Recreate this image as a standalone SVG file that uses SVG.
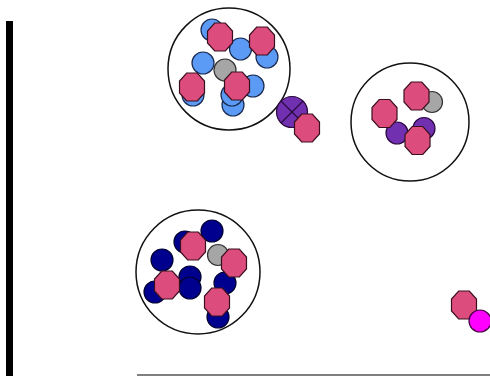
<svg xmlns="http://www.w3.org/2000/svg" xmlns:xlink="http://www.w3.org/1999/xlink" width="490" height="376" viewBox="0 0 490 376">
<style>
.cell{fill:#fff;stroke:#111;stroke-width:1.5}
.oct{fill:#dc4c7c;stroke:#3a1020;stroke-width:1.2}
.blue{fill:#5b9bf5;stroke:#1a2a50;stroke-width:1.2}
.navy{fill:#00008f;stroke:#000033;stroke-width:1.2}
.gray{fill:#a6a6a6;stroke:#333;stroke-width:1.2}
.purple{fill:#7030b0;stroke:#2a0a40;stroke-width:1.2}
.magenta{fill:#ff00ff;stroke:#400040;stroke-width:1.2}
</style>
<defs>
<polygon id="octa" class="oct" points="-5.3,-14 5.3,-14 12.5,-6 12.5,6 5.3,14 -5.3,14 -12.5,6 -12.5,-6"/>
</defs>
<rect width="490" height="376" fill="#fff"/>
<g id="axes">
<rect x="6" y="21" width="7" height="355" fill="#000"/>
<line x1="137" y1="375" x2="490" y2="375" stroke="#555" stroke-width="1.5"/>
</g>
<g id="cluster1">
<circle class="cell" cx="229" cy="69" r="61"/>
<circle class="blue" cx="212" cy="30" r="11"/>
<circle class="blue" cx="240.5" cy="49" r="11"/>
<circle class="blue" cx="267" cy="57" r="11"/>
<circle class="blue" cx="203" cy="63" r="11"/>
<circle class="blue" cx="193" cy="95" r="11"/>
<circle class="blue" cx="253" cy="86" r="11"/>
<circle class="blue" cx="233" cy="105" r="11"/>
<circle class="blue" cx="232" cy="95" r="11"/>
<circle class="gray" cx="225" cy="70" r="11"/>
<use xlink:href="#octa" x="220" y="37"/>
<use xlink:href="#octa" x="262" y="41"/>
<use xlink:href="#octa" x="192" y="87"/>
<use xlink:href="#octa" x="237" y="86"/>
</g>
<g id="free1">
<circle class="purple" cx="292" cy="112" r="15.5"/>
<line x1="281" y1="101" x2="303" y2="123" stroke="#2a0a40" stroke-width="1.2"/>
<line x1="281" y1="123" x2="303" y2="101" stroke="#2a0a40" stroke-width="1.2"/>
<use xlink:href="#octa" x="307" y="128"/>
</g>
<g id="cluster2">
<circle class="cell" cx="410" cy="122" r="59"/>
<circle class="gray" cx="432" cy="102" r="10.5"/>
<circle class="purple" cx="397" cy="133" r="11"/>
<circle class="purple" cx="424" cy="128.5" r="11"/>
<use xlink:href="#octa" x="416.5" y="96"/>
<use xlink:href="#octa" x="384.5" y="113.5"/>
<use xlink:href="#octa" x="417.5" y="140.5"/>
</g>
<g id="cluster3">
<circle class="cell" cx="198" cy="272" r="62"/>
<circle class="navy" cx="212" cy="231" r="11"/>
<circle class="navy" cx="185" cy="242" r="11"/>
<circle class="navy" cx="162" cy="260" r="11"/>
<circle class="navy" cx="190" cy="277" r="11"/>
<circle class="navy" cx="190" cy="288" r="11"/>
<circle class="navy" cx="155" cy="292" r="11"/>
<circle class="navy" cx="225" cy="283" r="11"/>
<circle class="navy" cx="218" cy="317" r="11"/>
<circle class="gray" cx="218" cy="255" r="10.5"/>
<use xlink:href="#octa" x="193" y="246"/>
<use xlink:href="#octa" x="234" y="263"/>
<use xlink:href="#octa" x="167" y="285"/>
<use xlink:href="#octa" x="217" y="302"/>
</g>
<g id="free2">
<use xlink:href="#octa" x="464" y="305"/>
<circle class="magenta" cx="480" cy="321" r="11"/>
</g>
</svg>
